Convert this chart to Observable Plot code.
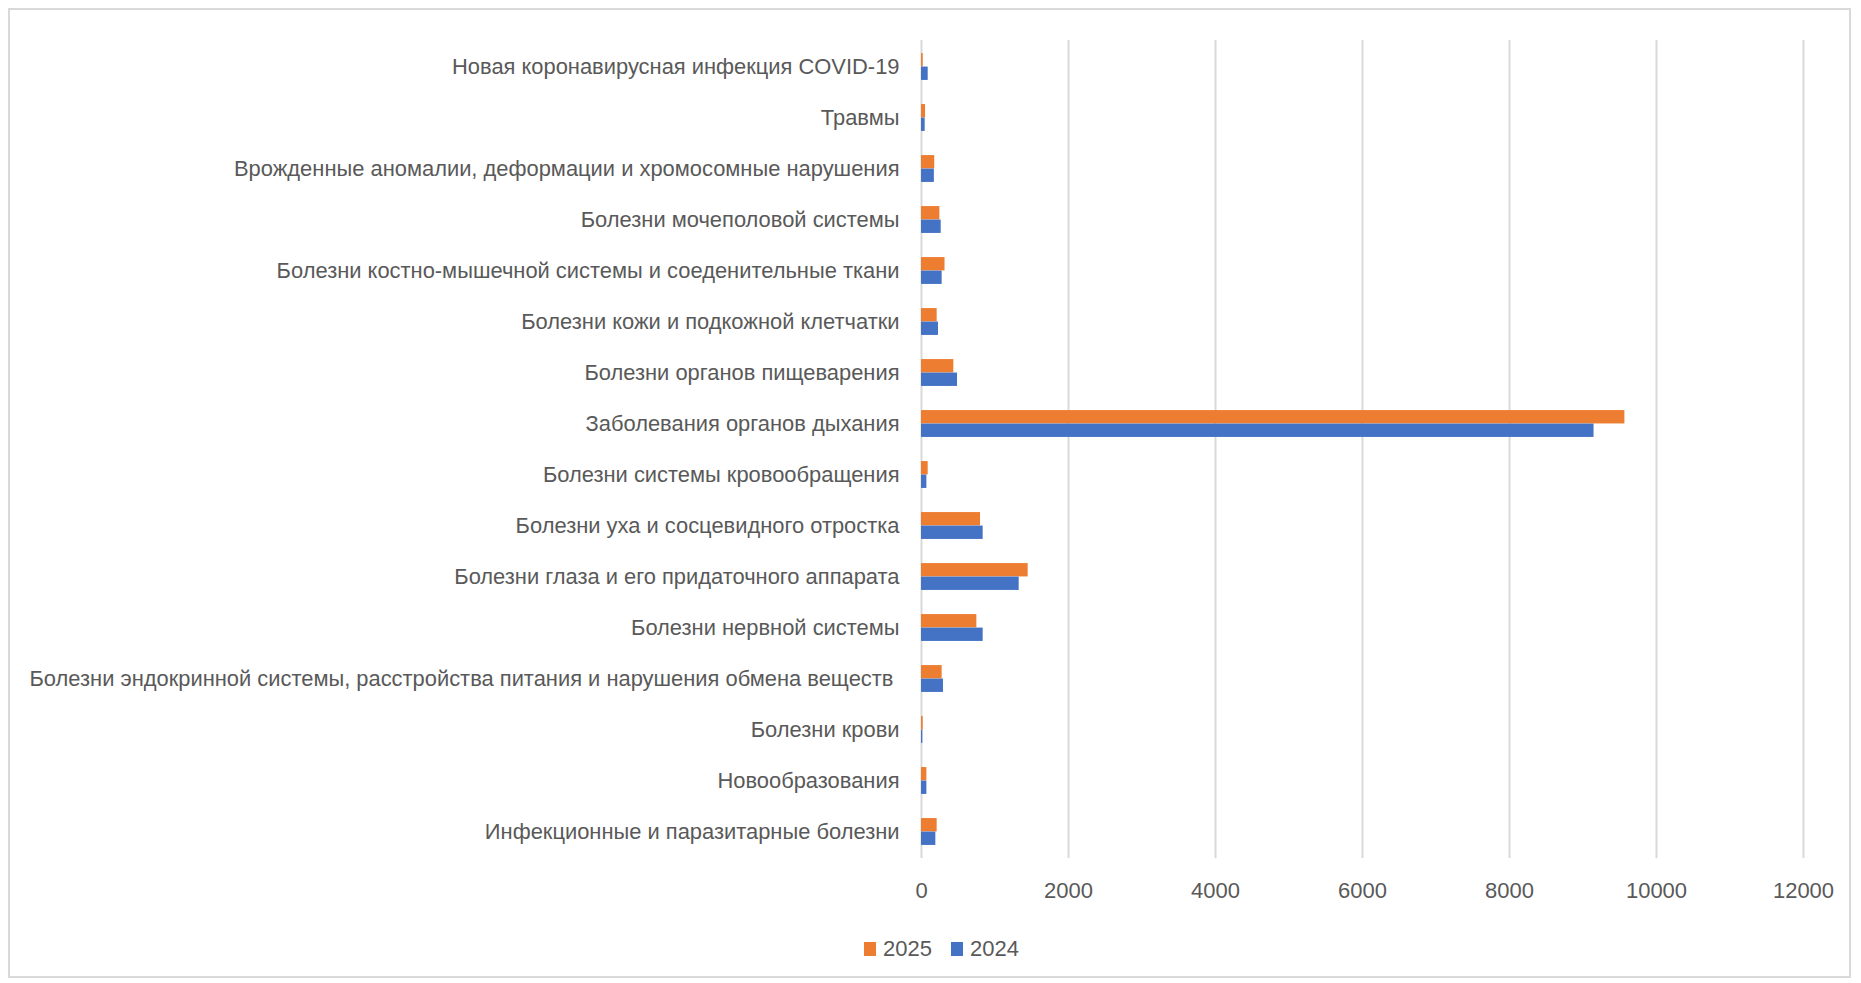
<!DOCTYPE html>
<html>
<head>
<meta charset="utf-8">
<script src="https://cdn.jsdelivr.net/npm/d3@7"></script>
<script src="https://cdn.jsdelivr.net/npm/@observablehq/plot@0.6"></script>
<style>
  html, body { margin: 0; padding: 0; background: #fff; }
  #wrap { position: relative; width: 1861px; height: 983px; overflow: hidden; font-family: "Liberation Sans", Arial, sans-serif; }
  #frame { position: absolute; left: 8px; top: 8px; width: 1843px; height: 970px; border: 2px solid #d9d9d9; box-sizing: border-box; pointer-events: none; }
  #chart { position: absolute; left: 0; top: 0; }
  #legend { position: absolute; top: 936px; left: 864px; display: flex; align-items: center; font-size: 22px; color: #595959; white-space: nowrap; }
  #legend .sw { display: inline-block; width: 12px; height: 14px; margin-right: 7px; }
  #legend .item { display: flex; align-items: center; margin-right: 19px; }
  #chart svg text { white-space: pre; }
</style>
</head>
<body>
<div id="wrap">
  <div id="frame"></div>
  <div id="chart"></div>
  <div id="legend"></div>
</div>
<script>
// Categories, top to bottom as shown
const categories = [
  "Новая коронавирусная инфекция COVID-19",
  "Травмы",
  "Врожденные аномалии, деформации и хромосомные нарушения",
  "Болезни мочеполовой системы",
  "Болезни костно-мышечной системы и соеденительные ткани",
  "Болезни кожи и подкожной клетчатки",
  "Болезни органов пищеварения",
  "Заболевания органов дыхания",
  "Болезни системы кровообращения",
  "Болезни уха и сосцевидного отростка",
  "Болезни глаза и его придаточного аппарата",
  "Болезни нервной системы",
  "Болезни эндокринной системы, расстройства питания и нарушения обмена веществ ",
  "Болезни крови",
  "Новообразования",
  "Инфекционные и паразитарные болезни"
];
const values2025 = [23, 55, 180, 250, 320, 213, 440, 9570, 91, 803, 1451, 753, 281, 23, 73, 213];
const values2024 = [91, 50, 175, 268, 281, 231, 490, 9150, 73, 839, 1329, 839, 299, 18, 73, 195];
const seriesNames = ["2025", "2024"];
const seriesColors = ["#ED7D31", "#4472C4"];
const xTicks = [0, 2000, 4000, 6000, 8000, 10000, 12000];

const rows = [];
categories.forEach((c, i) => {
  rows.push({category: c, year: "2025", value: values2025[i]});
  rows.push({category: c, year: "2024", value: values2024[i]});
});

const bandH = 818 / categories.length; // approx band height in px
const barH = 13.5;
const inset = (bandH - barH) / 2;

const chart = Plot.plot({
  width: 1861,
  height: 915,
  marginTop: 40,
  marginBottom: 57,
  marginLeft: 921,
  marginRight: 58,
  style: {fontFamily: "'Liberation Sans', Arial, sans-serif", color: "#595959", background: "transparent"},
  x: {domain: [0, 12000], ticks: xTicks, label: null},
  y: {domain: categories, padding: 0, label: null},
  color: {domain: seriesNames, range: seriesColors},
  marks: [
    Plot.gridX(xTicks, {stroke: "#d9d9d9", strokeOpacity: 1, strokeWidth: 2}),
    Plot.axisX({ticks: xTicks, tickSize: 0, tickPadding: 24, fontSize: 22, fill: "#595959", label: null, tickFormat: d => String(d)}),
    Plot.axisY({tickSize: 0, tickPadding: 22, fontSize: 21.9, fill: "#595959", label: null}),
    Plot.barX(rows.filter(d => d.year === "2025"), {x: "value", y: "category", fill: "year", insetTop: inset, insetBottom: inset, dy: -barH / 2}),
    Plot.barX(rows.filter(d => d.year === "2024"), {x: "value", y: "category", fill: "year", insetTop: inset, insetBottom: inset, dy: barH / 2})
  ]
});
document.getElementById("chart").appendChild(chart);

const legend = document.getElementById("legend");
seriesNames.forEach((name, i) => {
  const item = document.createElement("span");
  item.className = "item";
  const sw = document.createElement("span");
  sw.className = "sw";
  sw.style.background = seriesColors[i];
  item.appendChild(sw);
  item.appendChild(document.createTextNode(name));
  legend.appendChild(item);
});
</script>
</body>
</html>
